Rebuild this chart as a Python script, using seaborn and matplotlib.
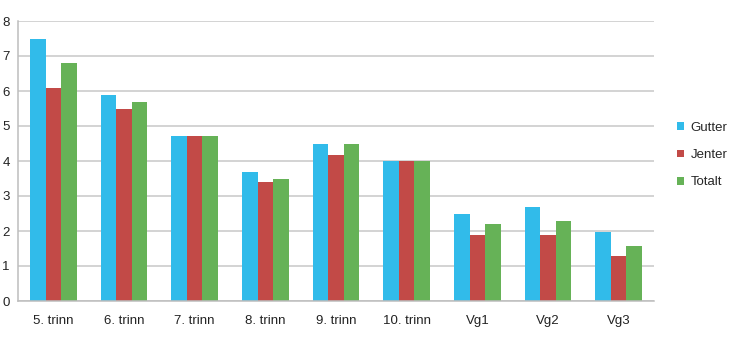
import matplotlib
matplotlib.use("Agg")
import matplotlib.pyplot as plt
import seaborn as sns
import pandas as pd
import numpy as np
from matplotlib.patches import Patch

categories = ["5. trinn", "6. trinn", "7. trinn", "8. trinn", "9. trinn", "10. trinn", "Vg1", "Vg2", "Vg3"]
gutter = [7.5, 5.9, 4.72, 3.68, 4.5, 4.0, 2.5, 2.7, 1.97]
jenter = [6.1, 5.5, 4.72, 3.41, 4.18, 4.0, 1.88, 1.88, 1.3]
totalt = [6.79, 5.7, 4.72, 3.5, 4.5, 4.0, 2.2, 2.3, 1.57]
series = ["Gutter", "Jenter", "Totalt"]
colors = ["#31BBEA", "#C24A47", "#66B257"]

rows = []
for name, vals in zip(series, [gutter, jenter, totalt]):
    for c, v in zip(categories, vals):
        rows.append({"cat": c, "serie": name, "val": v})
df = pd.DataFrame(rows)

sns.set_theme(style="white")
plt.rcParams['font.family'] = ['Liberation Sans', 'DejaVu Sans']

fig = plt.figure(figsize=(7.3, 3.41), dpi=100)
ax = fig.add_axes([18/730, 1-301/341, (654-18)/730, (301-21)/341])
sns.barplot(data=df, x="cat", y="val", hue="serie", palette=colors, width=0.665,
            ax=ax, saturation=1, legend=False, edgecolor="none")

ax.set_ylim(0, 8)
ax.set_xlim(-0.5, len(categories) - 0.5)
ax.set_yticks(range(0, 9))
ax.yaxis.grid(True, color="#C8C8C8", linewidth=1.1)
ax.set_axisbelow(True)
ax.set_xlabel("")
ax.set_ylabel("")
for s in ["top", "right"]:
    ax.spines[s].set_visible(False)
ax.spines["left"].set_color("#BDBDBD")
ax.spines["bottom"].set_color("#BDBDBD")
ax.spines["left"].set_linewidth(1.1)
ax.spines["bottom"].set_linewidth(1.1)
ax.tick_params(axis="y", length=0, pad=6, labelsize=9.5, colors="#222222")
ax.tick_params(axis="x", which="major", length=0, pad=10, labelsize=9.5, colors="#222222")
ax.set_xticks(np.arange(-0.5, len(categories)), minor=True)
ax.tick_params(axis="x", which="minor", length=4, color="#BDBDBD", width=1.1, direction="out")

handles = [Patch(facecolor=c, edgecolor="none") for c in colors]
fig.legend(handles, series, loc="center left", bbox_to_anchor=(677/730, 1-155/341),
           frameon=False, fontsize=9.5, handlelength=0.5, handleheight=0.5,
           labelspacing=1.17, handletextpad=0.55, borderpad=0, borderaxespad=0)

fig.savefig("out.png", dpi=100)
